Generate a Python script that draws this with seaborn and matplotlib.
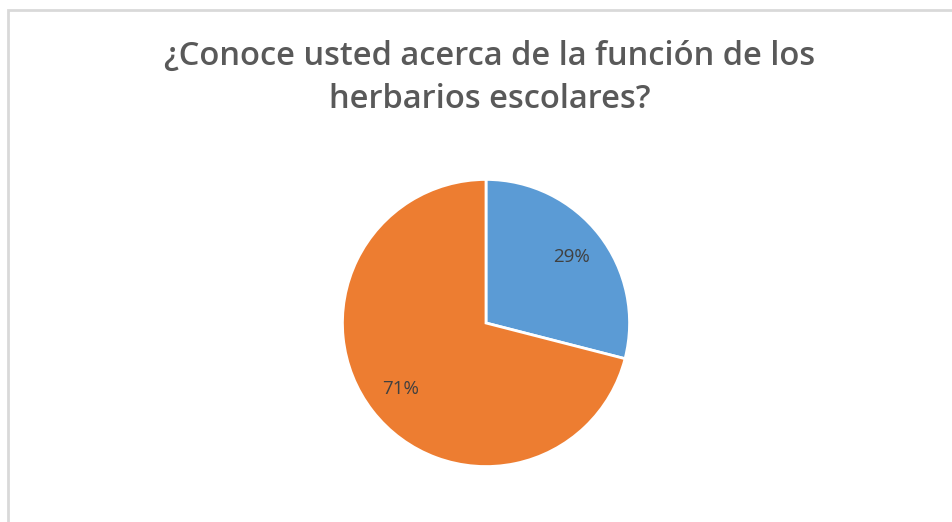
import matplotlib.pyplot as plt
import seaborn as sns
from matplotlib.patches import Rectangle

# datos de la encuesta
categorias = ['Sí', 'No']
porcentajes = [29, 71]
colores = ['#5B9BD5', '#ED7D31']

sns.set_theme(style='white')
plt.rcParams['font.family'] = ['Open Sans', 'DejaVu Sans']

W, H = 952, 522
fig = plt.figure(figsize=(W / 100, H / 100), dpi=100)

# borde del area del grafico
fig.patches.append(Rectangle((8 / W, -0.1), 1.1, (H - 10) / H + 0.1,
                             transform=fig.transFigure, fill=False,
                             edgecolor='#d9d9d9', linewidth=2))

cx, cy, r = 486, 323, 145
ax = fig.add_axes([(cx - r) / W, (H - cy - r) / H, 2 * r / W, 2 * r / H])
wedges, texts, autotexts = ax.pie(
    porcentajes, colors=colores, startangle=90, counterclock=False,
    autopct='%1.0f%%', pctdistance=0.75,
    wedgeprops=dict(edgecolor='white', linewidth=2),
    textprops=dict(color='#404040', fontsize=13.5))
ax.set_xlim(-1.01, 1.01)
ax.set_ylim(-1.01, 1.01)
ax.set_aspect('equal')

fig.text(0.514, 1 - 78 / H, '¿Conoce usted acerca de la función de los\nherbarios escolares?',
         ha='center', va='center', fontsize=23.5, fontweight='semibold',
         color='#595959', linespacing=1.42)

fig.savefig('out.png', dpi=100)
